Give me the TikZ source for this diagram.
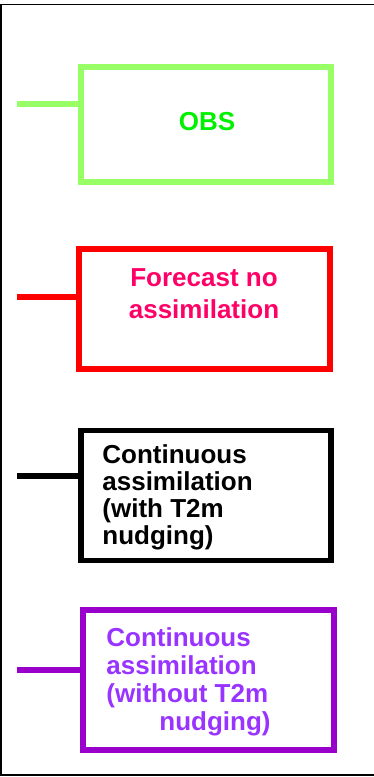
\documentclass[tikz,border=0pt]{standalone}
\usepackage{fontspec}
\setmainfont{Liberation Sans}
\usetikzlibrary{positioning}
\definecolor{obsline}{HTML}{99FF66}
\definecolor{obstext}{HTML}{00F000}
\definecolor{fcline}{HTML}{FF0000}
\definecolor{fctext}{HTML}{FF0066}
\definecolor{nudgeline}{HTML}{9900CC}
\definecolor{nudgetext}{HTML}{9933FF}
\tikzset{
  legbox/.style={draw,line width=2.8pt,minimum width=125pt,inner sep=0pt},
  legline/.style={line width=2.8pt},
  legtext/.style={font=\bfseries\fontsize{13}{#1}\selectfont,inner sep=0pt,align=left},
}

\begin{document}
\begin{tikzpicture}[x=0.5pt,y=-0.5pt]
\useasboundingbox (0,0) rectangle (374,777);
\draw[line width=0.75pt] (374,4.5) -| (1,775) -- (374,775);
% legend boxes
\node[legbox,draw=obsline,minimum height=57.5pt] (obs) at (206,124.5) {};
\node[legbox,draw=fcline,minimum height=60pt,minimum width=125.5pt] (fc) at (204.5,309) {};
\node[legbox,draw=black,minimum height=65pt] (withnudge) at (206,495.5) {};
\node[legbox,draw=nudgeline,minimum height=70pt,minimum width=125.5pt] (nonudge) at (208.5,680) {};
% labels
\node[legtext=15pt,text=obstext,anchor=base] (obslbl) at (207,130) {OBS};
\node[legtext=16pt,text=fctext,align=center,anchor=north] (fclbl) at (204,268.5) {Forecast no\\assimilation};
\node[legtext=13.5pt,anchor=north west] (withlbl) at (102,444.5) {Continuous\\assimilation\\(with T2m\\nudging)};
\node[legtext=14pt,text=nudgetext,anchor=north west] (nolbl) at (106,627.5) {Continuous\\assimilation\\(without T2m\\\hspace*{26.5pt}nudging)};
% line samples
\coordinate (obsend) at (17,104);
\coordinate (fcend) at (17,297);
\coordinate (withend) at (17,476);
\coordinate (noend) at (17,670);
\draw[legline,obsline] (obsend) -- (obsend -| obs.west);
\draw[legline,fcline] (fcend) -- (fcend -| fc.west);
\draw[legline,black] (withend) -- (withend -| withnudge.west);
\draw[legline,nudgeline] (noend) -- (noend -| nonudge.west);
\end{tikzpicture}
\end{document}
